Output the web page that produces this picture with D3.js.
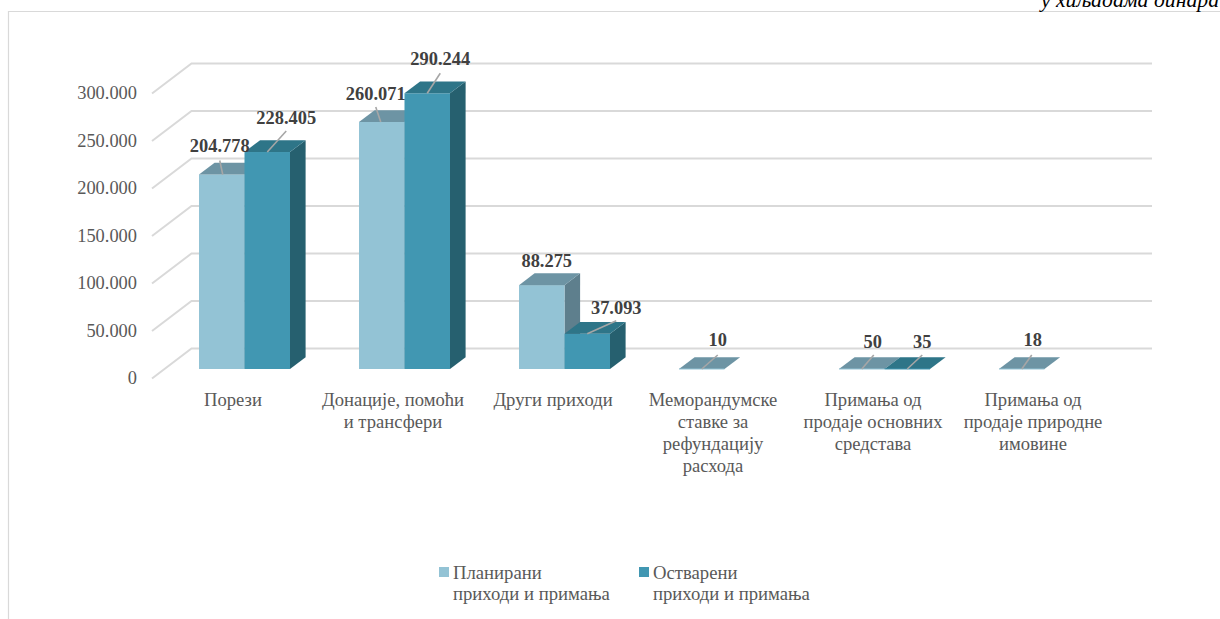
<!DOCTYPE html>
<html><head><meta charset="utf-8">
<style>html,body{margin:0;padding:0;background:#fff;overflow:hidden}svg{display:block}text{font-family:"Liberation Serif",serif}</style>
<script src="https://cdn.jsdelivr.net/npm/d3@7/dist/d3.min.js"></script>
</head><body><svg id="c" width="1220" height="619"></svg>
<script>
const categories=[["Порези"],["Донације, помоћи","и трансфери"],["Други приходи"],["Меморандумске","ставке за","рефундацију","расхода"],["Примања од","продаје основних","средстава"],["Примања од","продаје природне","имовине"]];
const planned=[204778,260071,88275,10,50,18];
const realized=[228405,290244,37093,null,35,null];
const yTicks=[0,50000,100000,150000,200000,250000,300000];
const seriesNames=["planned","realized"];
const legendLines=[["Планирани","приходи и примања"],["Остварени","приходи и примања"]];
const unitNote="у хиљадама динара";
// label placement relative to the bar's top-front centre: [label dx, label dy, leader start dx, leader end dx, leader end dy]
const plannedOffsets=[[-2,-22,1,-2,-14],[-6,-22,-1,-6,-15],[5,-18,null],[16,-23,0,16,-14],[11,-21,0,12,-14],[11,-23,0,10,-14]];
const realizedOffsets=[[19,-28,0,19,-21],[13,-28,0,13,-20],[29,-20,0,29,-13],null,[15,-21,0,15,-14],null];

const svg=d3.select("#c");
const fmt=d3.formatLocale({decimal:",",thousands:".",grouping:[3],currency:["",""]}).format(",d");
const y=d3.scaleLinear().domain([0,300000]).range([369,84]);
const keys=categories.map((c,i)=>i);
const x=d3.scaleBand().domain(keys).range([153,1113]);
const xs=d3.scaleBand().domain(seriesNames).range([46,137]);
const DX=15.6,DY=11.8,WX=39.5,WY=20.5,FY=9.5;
const col={planned:{f:"#93c3d5",t:"#6d94a4",s:"#5e7f8d"},realized:{f:"#4197b2",t:"#2e7588",s:"#26606f"}};
const GRID="#d9d9d9";

// frame
svg.append("path").attr("d","M1220,11.5H8.5V619").attr("fill","none").attr("stroke",GRID).attr("stroke-width",1.2);
svg.append("text").attr("x",1219).attr("y",7).attr("text-anchor","end").attr("font-style","italic").attr("font-size",21.7).attr("fill","#000").text(unitNote);

// 3D gridlines
svg.append("g").selectAll("path").data(yTicks).join("path")
 .attr("d",v=>d3.line()([[152,y(v)+FY],[152+WX,y(v)-WY],[1152,y(v)-WY]]))
 .attr("fill","none").attr("stroke",GRID).attr("stroke-width",2);

// y axis
const ax=d3.axisLeft(y).tickValues(yTicks).tickFormat(fmt).tickSize(0).tickPadding(0);
const axg=svg.append("g").attr("transform","translate(137,9)").call(ax);
axg.select(".domain").remove();
axg.selectAll("text").attr("font-size",18.4).attr("font-family","Liberation Serif").attr("fill","#595959");

// bars
const bw=xs.bandwidth();
function drawBar(g,i,s,v){
 const x0=x(i)+xs(s),x1=x0+bw,yt=y(v),yb=y(0),c=col[s];
 g.append("path").attr("fill",c.s).attr("d",d3.line()([[x1,yt],[x1+DX,yt-DY],[x1+DX,yb-DY],[x1,yb]])+"Z");
 g.append("rect").attr("x",x0).attr("y",yt).attr("width",bw).attr("height",Math.max(0,yb-yt)).attr("fill",c.f);
 g.append("path").attr("fill",c.t).attr("d",d3.line()([[x0,yt],[x0+DX,yt-DY],[x1+DX,yt-DY],[x1,yt]])+"Z");
 if(yb-yt<1)g.append("line").attr("x1",x0).attr("x2",x1).attr("y1",yb).attr("y2",yb).attr("stroke",c.f).attr("stroke-width",1);
}
const bars=svg.append("g");
keys.forEach(i=>{
 drawBar(bars,i,"planned",planned[i]);
 if(realized[i]!=null)drawBar(bars,i,"realized",realized[i]);
});

// leaders + data labels
const lab=svg.append("g");
function label(i,s,v,o){
 if(v==null||!o)return;
 const cx=x(i)+xs(s)+bw/2,yt=y(v);
 if(o[2]!=null)lab.append("line").attr("x1",cx+o[2]).attr("y1",yt).attr("x2",cx+o[3]).attr("y2",yt+o[4]).attr("stroke","#a6a6a6").attr("stroke-width",1.6);
 lab.append("text").attr("x",cx+o[0]).attr("y",yt+o[1]).attr("text-anchor","middle").attr("font-size",18.4).attr("font-weight","bold").attr("fill","#404040").text(fmt(v));
}
keys.forEach(i=>{label(i,"planned",planned[i],plannedOffsets[i]);label(i,"realized",realized[i],realizedOffsets[i]);});

// category labels
const cat=svg.append("g");
keys.forEach(i=>{
 categories[i].forEach((t,k)=>cat.append("text").attr("x",x(i)+x.bandwidth()/2).attr("y",406+k*22).attr("text-anchor","middle").attr("font-size",18.6).attr("fill","#595959").text(t));
});

// legend
const lx=d3.scalePoint().domain(seriesNames).range([439,639]);
seriesNames.forEach((s,i)=>{
 svg.append("rect").attr("x",lx(s)).attr("y",567).attr("width",10).attr("height",10).attr("fill",col[s].f);
 legendLines[i].forEach((t,k)=>svg.append("text").attr("x",lx(s)+14).attr("y",579+k*21).attr("font-size",18.7).attr("fill","#595959").text(t));
});
</script></body></html>
